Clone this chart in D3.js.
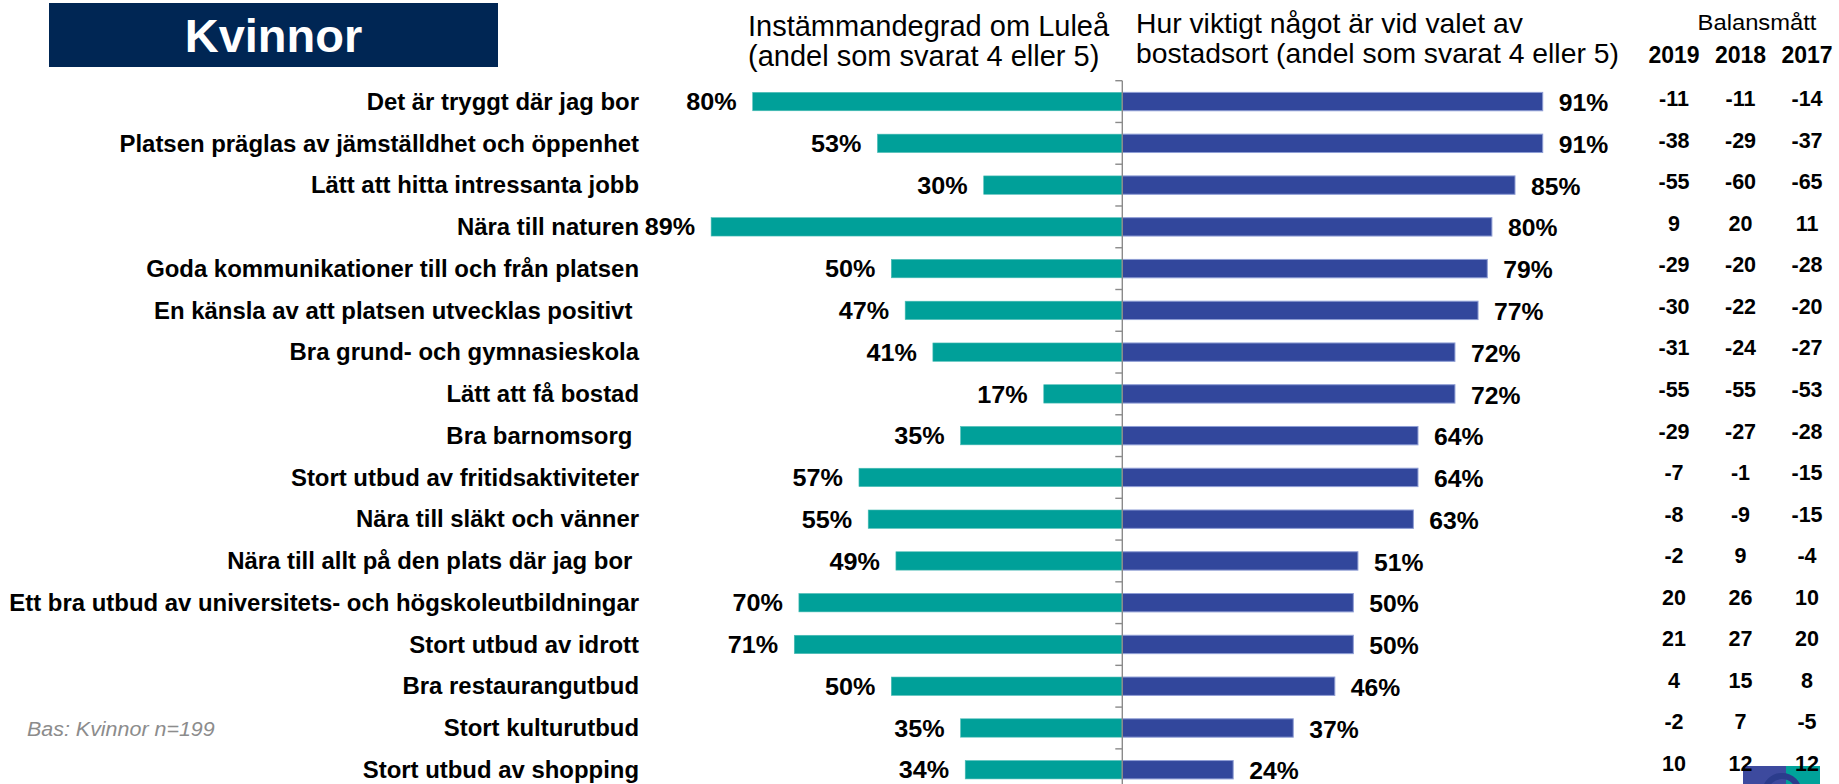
<!DOCTYPE html>
<html>
<head>
<meta charset="utf-8">
<script src="https://cdnjs.cloudflare.com/ajax/libs/d3/7.8.5/d3.min.js"></script>
<style>
  html, body { margin: 0; padding: 0; background: #fff; }
  svg { display: block; font-family: "Liberation Sans", Arial, sans-serif; }
  text { white-space: pre; }
</style>
</head>
<body>
<svg id="chart" width="1839" height="784"></svg>
<script>
// data
const categories = [
  "Det är tryggt där jag bor",
  "Platsen präglas av jämställdhet och öppenhet",
  "Lätt att hitta intressanta jobb",
  "Nära till naturen",
  "Goda kommunikationer till och från platsen",
  "En känsla av att platsen utvecklas positivt ",
  "Bra grund- och gymnasieskola",
  "Lätt att få bostad",
  "Bra barnomsorg ",
  "Stort utbud av fritidsaktiviteter",
  "Nära till släkt och vänner",
  "Nära till allt på den plats där jag bor ",
  "Ett bra utbud av universitets- och högskoleutbildningar",
  "Stort utbud av idrott",
  "Bra restaurangutbud",
  "Stort kulturutbud",
  "Stort utbud av shopping"
];
const agreement  = [80, 53, 30, 89, 50, 47, 41, 17, 35, 57, 55, 49, 70, 71, 50, 35, 34];
const importance = [91, 91, 85, 80, 79, 77, 72, 72, 64, 64, 63, 51, 50, 50, 46, 37, 24];
const years = ["2019", "2018", "2017"];
const bal2019 = [-11, -38, -55, 9, -29, -30, -31, -55, -29, -7, -8, -2, 20, 21, 4, -2, 10];
const bal2018 = [-11, -29, -60, 20, -20, -22, -24, -55, -27, -1, -9, 9, 26, 27, 15, 7, 12];
const bal2017 = [-14, -37, -65, 11, -28, -20, -27, -53, -28, -15, -15, -4, 10, 20, 8, -5, 12];
const balance = [bal2019, bal2018, bal2017];

const teal = "#00a099";
const blue = "#32479c";
const navy = "#002654";

const svg = d3.select("#chart");

const axisX = 1122.3;
const rowTop = 80.7, rowStep = 41.76;

const y = d3.scaleBand()
  .domain(categories)
  .range([rowTop, rowTop + rowStep * categories.length])
  .paddingInner(0.56)
  .paddingOuter(0.28);

const xLeft = d3.scaleLinear().domain([0, 100]).range([axisX, axisX - 462]);
const xRight = d3.scaleLinear().domain([0, 100]).range([axisX, axisX + 462]);

// stretched text helper (slide text is a bit wider than plain Arial)
function label(g, x, yy, txt, opt) {
  return g.append("text")
    .attr("transform", `translate(${x},${yy}) scale(${opt.sx || 1},1)`)
    .attr("text-anchor", opt.anchor || "start")
    .attr("font-size", opt.size)
    .attr("font-weight", opt.weight || "normal")
    .attr("font-style", opt.style || "normal")
    .attr("fill", opt.fill || "#000")
    .text(txt);
}

// title box
svg.append("rect")
  .attr("x", 49).attr("y", 3).attr("width", 449).attr("height", 64)
  .attr("fill", navy);
label(svg, 273.5, 52, "Kvinnor", {size: 47, weight: "bold", anchor: "middle", fill: "#fff"});

// column headers
label(svg, 748, 36, "Instämmandegrad om Luleå", {size: 29});
label(svg, 748, 66, "(andel som svarat 4 eller 5)", {size: 29});
label(svg, 1136, 33, "Hur viktigt något är vid valet av", {size: 28.3});
label(svg, 1136, 63, "bostadsort (andel som svarat 4 eller 5)", {size: 28.3});

const bw = y.bandwidth();
const mid = c => y(c) + bw / 2;

// bars
svg.append("g").selectAll("rect")
  .data(categories)
  .join("rect")
    .attr("x", (c, i) => xLeft(agreement[i]))
    .attr("y", c => y(c))
    .attr("width", (c, i) => axisX - xLeft(agreement[i]))
    .attr("height", bw)
    .attr("fill", teal)
    .attr("stroke", "#4dbdb6")
    .attr("stroke-width", 0.6);

svg.append("g").selectAll("rect")
  .data(categories)
  .join("rect")
    .attr("x", axisX)
    .attr("y", c => y(c))
    .attr("width", (c, i) => xRight(importance[i]) - axisX)
    .attr("height", bw)
    .attr("fill", blue)
    .attr("stroke", "#8e9dd4")
    .attr("stroke-width", 1);

// centre axis with small ticks at row boundaries
const axisG = svg.append("g").attr("stroke", "#8a8a8a").attr("stroke-width", 1.4);
axisG.append("line")
  .attr("x1", axisX).attr("x2", axisX)
  .attr("y1", rowTop).attr("y2", 784);
axisG.selectAll("line.tick")
  .data(categories)
  .join("line")
    .attr("class", "tick")
    .attr("x1", axisX - 7).attr("x2", axisX)
    .attr("y1", c => y(c) - (y.step() - bw) / 2)
    .attr("y2", c => y(c) - (y.step() - bw) / 2);

// category labels
const labG = svg.append("g");
categories.forEach(c => {
  label(labG, 639, mid(c) + 8.2, c, {size: 23, weight: "bold", anchor: "end", sx: 1.04});
});

// value labels
const valG = svg.append("g");
categories.forEach((c, i) => {
  label(valG, xLeft(agreement[i]) - 16, mid(c) + 8.6, agreement[i] + "%", {size: 24, weight: "bold", anchor: "end", sx: 1.05});
  label(valG, xRight(importance[i]) + 16, mid(c) + 9.6, importance[i] + "%", {size: 24, weight: "bold", anchor: "start", sx: 1.03});
});

// logo corner (partly off the slide)
const logo = svg.append("g");
logo.append("rect").attr("x", 1743).attr("y", 766).attr("width", 43).attr("height", 20).attr("fill", "#3d4a9e");
logo.append("rect").attr("x", 1786).attr("y", 766).attr("width", 34).attr("height", 20).attr("fill", "#00a29a");
logo.append("circle").attr("cx", 1782).attr("cy", 793).attr("r", 17)
  .attr("fill", "none").attr("stroke", "#2b3c8c").attr("stroke-width", 6);

// balance table
const colX = d3.scalePoint().domain(years).range([1674, 1807]);
const rowY = d3.scalePoint().domain(categories).range([98.3, 763.3]);

label(svg, 1757, 30, "Balansmått", {size: 22, anchor: "middle", sx: 1.08});
years.forEach(yr => {
  label(svg, colX(yr), 63, yr, {size: 23, weight: "bold", anchor: "middle"});
});
const tabG = svg.append("g");
years.forEach((yr, j) => {
  categories.forEach((c, i) => {
    label(tabG, colX(yr), rowY(c) + 7.7, String(balance[j][i]), {size: 21.5, weight: "bold", anchor: "middle"});
  });
});

// footnote
label(svg, 27, 736, "Bas: Kvinnor n=199", {size: 19.5, style: "italic", fill: "#8c8c8c", sx: 1.1});
</script>
</body>
</html>
